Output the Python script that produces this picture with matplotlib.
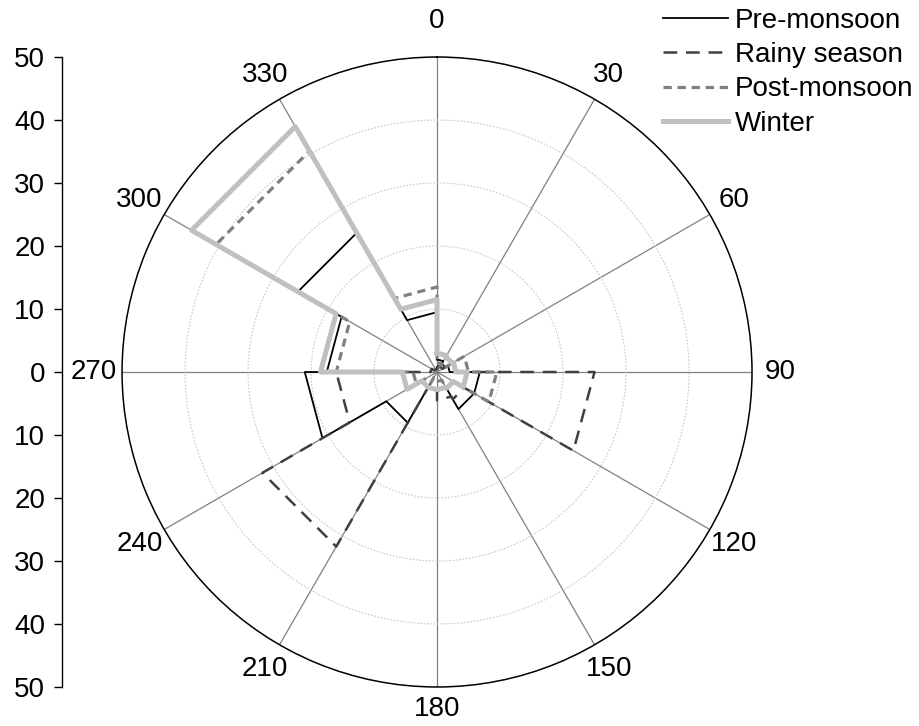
import numpy as np
import matplotlib
matplotlib.use("Agg")
import matplotlib.pyplot as plt

plt.rcParams['font.family'] = ['Liberation Sans', 'DejaVu Sans']

# direction sectors (start angle in degrees, each 30 wide)
sectores = [0, 30, 60, 90, 120, 150, 180, 210, 240, 270, 300, 330]
ancho = 30

# frequency (%) per sector
pre_monzon = [2.0, 1.5, 2.0, 6.8, 6.8, 3.0, 2.7, 9.3, 21.0, 17.5, 25.5, 9.5]
lluvias = [1.0, 1.0, 2.0, 25.0, 5.0, 4.5, 2.0, 32.0, 16.0, 1.0, 0.5, 0.5]
post_monzon = [1.5, 1.0, 5.0, 9.5, 3.0, 1.5, 1.0, 2.0, 3.8, 16.0, 40.5, 13.5]
invierno = [3.0, 2.8, 3.0, 4.8, 3.0, 2.8, 2.8, 2.8, 5.5, 18.5, 45.0, 11.5]

series = [
    ("Pre-monsoon", pre_monzon, dict(color="black", lw=1.3, ls="-")),
    ("Rainy season", lluvias, dict(color="#404040", lw=1.8, ls=(0, (5.5, 3.5)))),
    ("Post-monsoon", post_monzon, dict(color="#808080", lw=2.3, ls=(0, (2.6, 1.8)))),
    ("Winter", invierno, dict(color="#c0c0c0", lw=3.6, ls="-")),
]

radial_ticks = [-50, -40, -30, -20, -10, 0, 10, 20, 30, 40, 50]
fs = 20


def escalones(valores):
    # step outline: chord across each sector, radial jump along the spokes
    th = []
    r = []
    for s, v in zip(sectores, valores):
        th += [np.radians(s), np.radians(s + ancho)]
        r += [v, v]
    th.append(np.radians(sectores[0]))
    r.append(valores[0])
    return th, r


fig = plt.figure(figsize=(9.19, 7.26), dpi=100)
ax = fig.add_axes([0.1328, 0.0537, 0.6855, 0.8678], projection="polar")
ax.set_theta_zero_location("N")
ax.set_theta_direction(-1)
ax.set_ylim(0, 50)

for nombre, valores, estilo in series:
    th, r = escalones(valores)
    ax.plot(th, r, label=nombre, **estilo)

# 0 and 180 are placed by hand (top one sits higher, bottom one must stay inside)
etiquetas = ["" if s in (0, 180) else str(s) for s in sectores]
ax.set_xticks(np.radians(sectores))
ax.set_xticklabels(etiquetas, fontsize=fs)
ax.tick_params(axis="x", pad=10)
ax.annotate("0", xy=(0, 50), xytext=(0, 26), textcoords="offset points",
            ha="center", va="center", fontsize=fs, annotation_clip=False)
ax.annotate("180", xy=(np.pi, 50), xytext=(0, -16), textcoords="offset points",
            ha="center", va="center", fontsize=fs, annotation_clip=False)
ax.xaxis.grid(True, color="#808080", lw=0.9, ls="-")
ax.set_yticks([10, 20, 30, 40])
ax.set_yticklabels([])
ax.yaxis.grid(True, color="#c8c8c8", lw=0.8, ls=(0, (1.5, 1.5)))
ax.spines["polar"].set_color("black")
ax.spines["polar"].set_linewidth(1.1)
ax.set_axisbelow(True)

leg = fig.legend(loc="upper right", bbox_to_anchor=(1.0, 0.997), frameon=False,
                 fontsize=fs, handlelength=2.35, handletextpad=0.25, labelspacing=0.3,
                 borderaxespad=0.1, borderpad=0.1)

# separate linear axis on the left (0 in the middle)
ax2 = fig.add_axes([62 / 919, 0.0537, 0.001, 0.8678])
ax2.set_ylim(-50, 50)
ax2.set_yticks(radial_ticks)
ax2.set_yticklabels([str(abs(t)) for t in radial_ticks], fontsize=fs)
ax2.set_xticks([])
for lado in ["top", "right", "bottom"]:
    ax2.spines[lado].set_visible(False)
ax2.spines["left"].set_linewidth(1.0)
ax2.tick_params(axis="y", direction="out", length=6, width=1.0, pad=6)
ax2.patch.set_visible(False)

fig.savefig("out.png", dpi=100)
